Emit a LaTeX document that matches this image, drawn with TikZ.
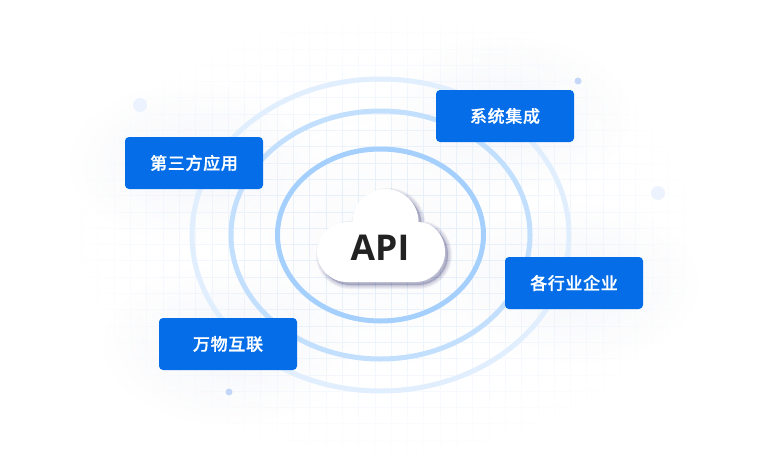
\documentclass[tikz,border=0pt]{standalone}
\usepackage{fontspec}
\newfontfamily\cjk[LetterSpace=4, BoldFont={Noto Sans CJK SC Medium}, BoldFeatures={FakeBold=0.8}]{Noto Sans CJK SC}
\newfontfamily\latin{Open Sans}
\usetikzlibrary{fadings}
\definecolor{boxblue}{HTML}{056DE8}
\definecolor{gridblue}{HTML}{E3EEFC}
\definecolor{haloblue}{HTML}{DCE0EE}
\tikzfading[name=edgefade, inner color=transparent!100, outer color=transparent!0]
\tikzfading[name=halofade, inner color=transparent!0, outer color=transparent!100]
\tikzset{
  ring/.style={draw, line width=5pt},
  dotbig/.style={circle, fill={rgb,255:red,237;green,243;blue,254}, minimum size=14pt, inner sep=0pt},
  dotsmall/.style={circle, fill={rgb,255:red,197;green,215;blue,248}, minimum size=7pt, inner sep=0pt},
  halo/.style={fill=haloblue, path fading=halofade},
  bluebox/.style={fill=boxblue, rounded corners=4pt, text=white, minimum width=138pt, minimum height=52pt, inner sep=0pt, font=\cjk\fontsize{17}{17}\selectfont\bfseries},
}
\newcommand{\cloudshape}{(317,252) arc[start angle=180, end angle=270, radius=30] -- (352.5,222) arc[start angle=180, end angle=360, radius=33] arc[start angle=270, end angle=360, x radius=26.5, y radius=30] arc[start angle=0, end angle=90, radius=30] -- (347,282) arc[start angle=90, end angle=180, radius=30] -- cycle}
\begin{document}
\begin{tikzpicture}[x=1pt, y=-1pt]
  \useasboundingbox (0,0) rectangle (767,471);
  % soft background
  \begin{scope}
    \clip (0,0) rectangle (767,471);
    \draw[gridblue, line width=.8pt, xstep=16.3pt, ystep=16.3pt] (70,15) grid (700,455);
    \fill[white, path fading=edgefade] (60,5) rectangle (710,465);
    \fill[halo, opacity=.28] (194,163) ellipse (125 and 80);
    \fill[halo, opacity=.28] (505,116) ellipse (125 and 80);
    \fill[halo, opacity=.28] (574,283) ellipse (125 and 80);
    \fill[halo, opacity=.28] (228,344) ellipse (125 and 80);
    \fill[halo, opacity=.15] (380,240) ellipse (150 and 125);
  \end{scope}
  % rings
  \draw[ring, color={rgb,255:red,224;green,238;blue,254}] (380.5,235) ellipse (188.5 and 156);
  \draw[ring, color={rgb,255:red,195;green,223;blue,254}] (380.5,235) ellipse (149.5 and 124);
  \draw[ring, color={rgb,255:red,165;green,208;blue,254}] (380.5,235) ellipse (103 and 86);
  % dots
  \node[dotbig] (dotleft) at (140,105) {};
  \node[dotbig] (dotright) at (658,193) {};
  \node[dotsmall] (dottop) at (578,81) {};
  \node[dotsmall] (dotbottom) at (229,392) {};
  % cloud
  \foreach \w in {8,6,4,2}
    \filldraw[black!70!blue, fill opacity=.05, draw opacity=.05, line width=\w pt, line join=round, shift={(3,3)}] \cloudshape;
  \fill[white] \cloudshape;
  \node[text={rgb,255:red,34;green,34;blue,34}, font=\latin\fontsize{35.5}{35.5}\selectfont\bfseries, inner sep=0pt] (api) at (380,247.5) {API};
  % boxes
  \node[bluebox] (apps) at (194,163) {第三方应用};
  \node[bluebox] (integration) at (505,116) {系统集成};
  \node[bluebox] (industries) at (574,283) {各行业企业};
  \node[bluebox] (iot) at (228,344) {万物互联};
\end{tikzpicture}
\end{document}
